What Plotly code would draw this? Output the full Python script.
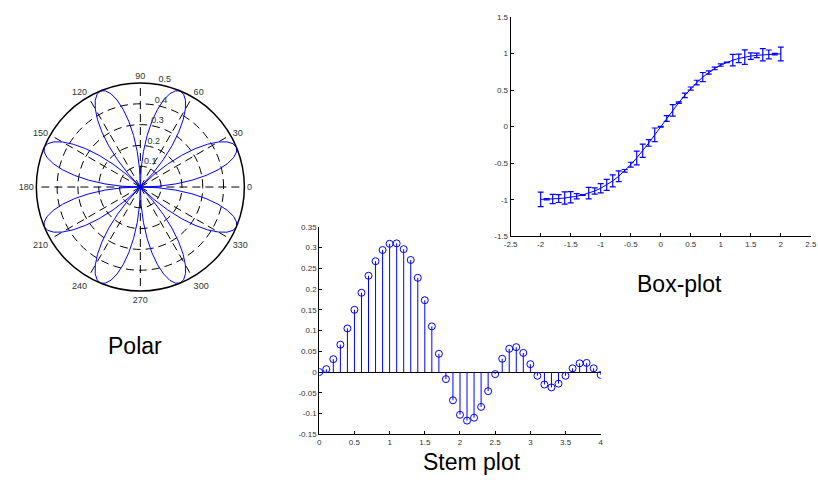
import plotly.graph_objects as go

# ---------------- data ----------------
# Polar rose: radius profile of one petal, repeated for 8 petals
petal_angles = [0, 2.5, 5, 7.5, 10, 12.5, 15, 17.5, 20, 22.5, 25, 27.5, 30, 32.5, 35, 37.5, 40, 42.5, 45]
petal_r = [0, 0.087, 0.171, 0.25, 0.321, 0.383, 0.433, 0.47, 0.492, 0.5,
           0.492, 0.47, 0.433, 0.383, 0.321, 0.25, 0.171, 0.087, 0]
petal_starts = [0, 45, 90, 135, 180, 225, 270, 315]
polar_angle_ticks = [0, 30, 60, 90, 120, 150, 180, 210, 240, 270, 300, 330]
polar_radial_ticks = [0.1, 0.2, 0.3, 0.4, 0.5]

# Error-bar ("Box-plot") data
box_x = [-2.0, -1.9, -1.8, -1.7, -1.6, -1.5, -1.4, -1.3, -1.2, -1.1, -1.0,
         -0.9, -0.8, -0.7, -0.6, -0.5, -0.4, -0.3, -0.2, -0.1, 0.0,
         0.1, 0.2, 0.3, 0.4, 0.5, 0.6, 0.7, 0.8, 0.9, 1.0,
         1.1, 1.2, 1.3, 1.4, 1.5, 1.6, 1.7, 1.8, 1.9, 2.0]
box_y = [-0.995, -0.993, -0.989, -0.984, -0.976, -0.966, -0.952, -0.934, -0.910, -0.880, -0.843,
         -0.797, -0.742, -0.678, -0.604, -0.521, -0.428, -0.329, -0.223, -0.112, 0.0,
         0.112, 0.223, 0.329, 0.428, 0.521, 0.604, 0.678, 0.742, 0.797, 0.843,
         0.880, 0.910, 0.934, 0.952, 0.966, 0.976, 0.984, 0.989, 0.993, 0.995]
box_err = [0.099, 0.010, 0.063, 0.054, 0.085, 0.078, 0.036, 0.005, 0.078, 0.043, 0.063,
           0.076, 0.083, 0.074, 0.018, 0.034, 0.094, 0.090, 0.045, 0.094, 0.005,
           0.040, 0.078, 0.010, 0.030, 0.022, 0.031, 0.063, 0.022, 0.018, 0.016,
           0.005, 0.078, 0.058, 0.099, 0.045, 0.031, 0.085, 0.060, 0.010, 0.094]
box_xticks = [-2.5, -2, -1.5, -1, -0.5, 0, 0.5, 1, 1.5, 2, 2.5]
box_xticklabels = ["-2.5", "-2", "-1.5", "-1", "-0.5", "0", "0.5", "1", "1.5", "2", "2.5"]
box_yticks = [-1.5, -1, -0.5, 0, 0.5, 1, 1.5]
box_yticklabels = ["-1.5", "-1", "-0.5", "0", "0.5", "1", "1.5"]

# Stem data
stem_x = [0.0, 0.1, 0.2, 0.3, 0.4, 0.5, 0.6, 0.7, 0.8, 0.9, 1.0,
          1.1, 1.2, 1.3, 1.4, 1.5, 1.6, 1.7, 1.8, 1.9, 2.0,
          2.1, 2.2, 2.3, 2.4, 2.5, 2.6, 2.7, 2.8, 2.9, 3.0,
          3.1, 3.2, 3.3, 3.4, 3.5, 3.6, 3.7, 3.8, 3.9, 4.0]
stem_y = [0.0, 0.007, 0.031, 0.066, 0.105, 0.150, 0.191, 0.232, 0.267, 0.294, 0.309,
          0.310, 0.296, 0.270, 0.227, 0.173, 0.110, 0.044, -0.017, -0.068, -0.103,
          -0.117, -0.110, -0.084, -0.046, -0.005, 0.032, 0.056, 0.060, 0.046, 0.019,
          -0.009, -0.030, -0.037, -0.028, -0.009, 0.009, 0.021, 0.022, 0.009, -0.007]
stem_xticks = [0, 0.5, 1, 1.5, 2, 2.5, 3, 3.5, 4]
stem_xticklabels = ["0", "0.5", "1", "1.5", "2", "2.5", "3", "3.5", "4"]
stem_yticks = [-0.15, -0.1, -0.05, 0, 0.05, 0.1, 0.15, 0.2, 0.25, 0.3, 0.35]
stem_yticklabels = ["-0.15", "-0.1", "-0.05", "0", "0.05", "0.1", "0.15", "0.2", "0.25", "0.3", "0.35"]

titles = ["Polar", "Box-plot", "Stem plot"]

# ---------------- figure ----------------
W, H = 818, 482
BLUE = "#0000ff"
FONT = "Liberation Sans, Arial, sans-serif"
TICKFONT = dict(family=FONT, size=8, color="#333333")
RADIAL_LABEL_ANGLE = 80

fig = go.Figure()

# Polar rose
theta_all, r_all = [], []
for s in petal_starts:
    for a, r in zip(petal_angles, petal_r):
        theta_all.append(s + a)
        r_all.append(r)
fig.add_trace(go.Scatterpolar(r=r_all, theta=theta_all, mode="lines",
                              line=dict(color=BLUE, width=1),
                              subplot="polar", showlegend=False, hoverinfo="skip"))
# radial tick labels (MATLAB style, upper right of each ring)
fig.add_trace(go.Scatterpolar(r=polar_radial_ticks,
                              theta=[RADIAL_LABEL_ANGLE] * len(polar_radial_ticks),
                              mode="text", text=[str(v) for v in polar_radial_ticks],
                              textposition="top right",
                              textfont=dict(family=FONT, size=9, color="#333333"),
                              subplot="polar", showlegend=False, hoverinfo="skip",
                              cliponaxis=False))

# Error bars
fig.add_trace(go.Scatter(x=box_x, y=box_y, mode="lines",
                         line=dict(color=BLUE, width=1),
                         error_y=dict(type="data", array=box_err, visible=True,
                                      color=BLUE, thickness=1.2, width=3),
                         xaxis="x", yaxis="y", showlegend=False))

# Stems
sx, sy = [], []
for xv, yv in zip(stem_x, stem_y):
    sx += [xv, xv, None]
    sy += [0, yv, None]
fig.add_trace(go.Scatter(x=sx, y=sy, mode="lines", line=dict(color=BLUE, width=1),
                         xaxis="x2", yaxis="y2", showlegend=False, hoverinfo="skip"))
fig.add_trace(go.Scatter(x=stem_x, y=stem_y, mode="markers",
                         marker=dict(symbol="circle-open", size=7, color=BLUE,
                                     line=dict(color=BLUE, width=1)),
                         xaxis="x2", yaxis="y2", showlegend=False))

def px_x(p):
    return p / W

def px_y(p):
    return (H - p) / H

cx, cy, rad = 135.5, 186.5, 106

axis_common = dict(showgrid=False, zeroline=False, showline=True, linecolor="black",
                   linewidth=1, ticks="inside", ticklen=3, tickcolor="black",
                   tickfont=TICKFONT, mirror=False, ticklabeloverflow="allow")

fig.update_layout(
    width=W, height=H, autosize=False,
    margin=dict(l=0, r=0, t=0, b=0),
    paper_bgcolor="white", plot_bgcolor="rgba(0,0,0,0)",
    showlegend=False,
    polar=dict(
        domain=dict(x=[px_x(cx - rad), px_x(cx + rad)], y=[px_y(cy + rad), px_y(cy - rad)]),
        bgcolor="white",
        radialaxis=dict(range=[0, 0.5], tickvals=polar_radial_ticks,
                        showticklabels=False, showline=False, ticks="",
                        gridcolor="black", gridwidth=1, griddash="8px,5px"),
        angularaxis=dict(tickvals=polar_angle_ticks,
                         ticktext=[str(v) for v in polar_angle_ticks],
                         direction="counterclockwise", rotation=0,
                         showline=True, linecolor="black", linewidth=1.5,
                         ticks="", gridcolor="black", gridwidth=1, griddash="8px,5px",
                         tickfont=dict(family=FONT, size=9, color="#333333")),
    ),
    xaxis=dict(domain=[px_x(511.8), px_x(816.8)], range=[-2.5, 2.5], anchor="y",
               tickvals=box_xticks, ticktext=box_xticklabels, **axis_common),
    yaxis=dict(domain=[px_y(236.7), px_y(13.3)], range=[-1.5, 1.5], anchor="x",
               tickvals=box_yticks, ticktext=box_yticklabels, **axis_common),
    xaxis2=dict(domain=[px_x(317.3), px_x(603.3)], range=[0, 4], anchor="y2",
                tickvals=stem_xticks, ticktext=stem_xticklabels, **axis_common),
    yaxis2=dict(domain=[px_y(438.5), px_y(227.0)], range=[-0.15, 0.35], anchor="x2",
                tickvals=stem_yticks, ticktext=stem_yticklabels,
                **{**axis_common, "zeroline": True, "zerolinecolor": "black", "zerolinewidth": 1}),
)

title_pos = [(130, 349), (683, 285), (473, 467)]
for t, (tx, ty) in zip(titles, title_pos):
    fig.add_annotation(text=t, x=px_x(tx), y=px_y(ty), xref="paper", yref="paper",
                       xanchor="center", yanchor="middle", showarrow=False,
                       font=dict(family=FONT, size=23, color="black"))

fig.write_html("out.html")
